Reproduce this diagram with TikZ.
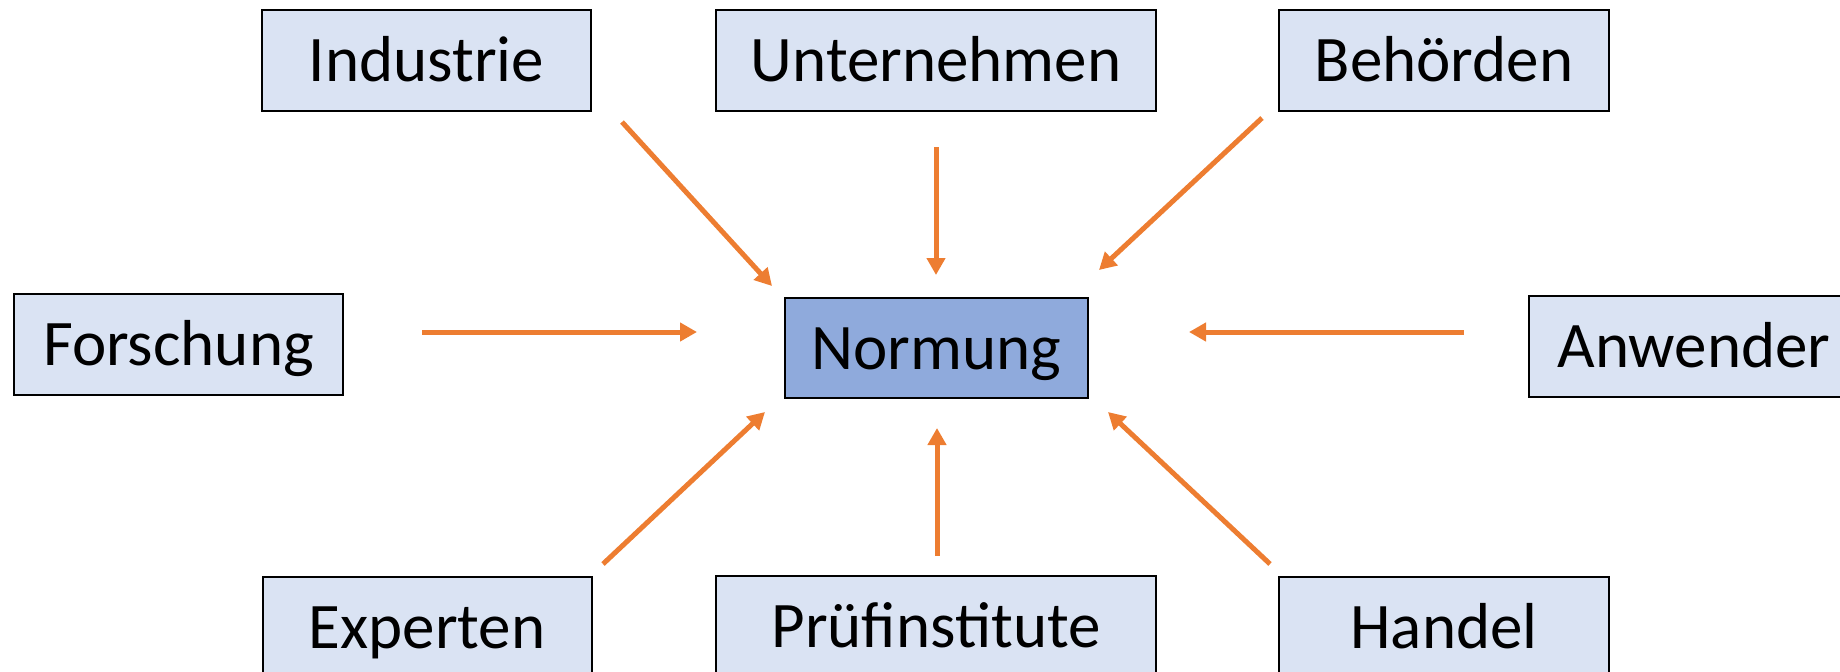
\documentclass[tikz,border=0pt]{standalone}
\usepackage{fontspec}
\setmainfont{Carlito}
\usetikzlibrary{arrows.meta}
\definecolor{boxfill}{HTML}{DAE3F3}
\definecolor{centerfill}{HTML}{8FAADC}
\definecolor{arroworange}{HTML}{ED7D31}
\begin{document}
\begin{tikzpicture}[x=1pt,y=-1pt,
  actor/.style={draw=black, line width=2pt, fill=boxfill, minimum height=101pt, inner sep=0pt,
    text height=42pt, text depth=0pt, font=\fontsize{65}{78}\selectfont},
  centerbox/.style={actor, fill=centerfill},
  flow/.style={draw=arroworange, line width=5pt, -{Triangle[length=17pt,width=18pt]}}]
\useasboundingbox (0,0) rectangle (1840,672);
% boxes
\node[actor, minimum width=329pt] (ind) at (426.5,60.5) {Industrie};
\node[actor, minimum width=440pt] (unt) at (936,60.5) {Unternehmen};
\node[actor, minimum width=330pt] (beh) at (1444,60.5) {Behörden};
\node[actor, minimum width=329pt] (for) at (178.5,344.5) {Forschung};
\node[centerbox, minimum width=303pt, minimum height=100pt] (nor) at (936,348) {Normung};
\node[actor, minimum width=330pt] (anw) at (1694,346.5) {Anwender};
\node[actor, minimum width=329pt] (exp) at (427,627.5) {Experten};
\node[actor, minimum width=440pt] (pru) at (936,626.5) {Prüfinstitute};
\node[actor, minimum width=330pt] (han) at (1444,627.5) {Handel};
% arrow end points
\coordinate (indS) at (622,122);   \coordinate (indE) at (772,286);
\coordinate (untS) at (936,147);   \coordinate (untE) at (936,275);
\coordinate (behS) at (1262,118);  \coordinate (behE) at (1099,270);
\coordinate (forS) at (422,332);   \coordinate (forE) at (697,332);
\coordinate (anwS) at (1464,332);  \coordinate (anwE) at (1189,332);
\coordinate (expS) at (603,564);   \coordinate (expE) at (765,412);
\coordinate (pruS) at (937,556);   \coordinate (pruE) at (937,428);
\coordinate (hanS) at (1270,564);  \coordinate (hanE) at (1108,412);
% arrows
\draw[flow] (indS) -- (indE);
\draw[flow] (untS) -- (untE);
\draw[flow] (behS) -- (behE);
\draw[flow] (forS) -- (forE);
\draw[flow] (anwS) -- (anwE);
\draw[flow] (expS) -- (expE);
\draw[flow] (pruS) -- (pruE);
\draw[flow] (hanS) -- (hanE);
\end{tikzpicture}
\end{document}
